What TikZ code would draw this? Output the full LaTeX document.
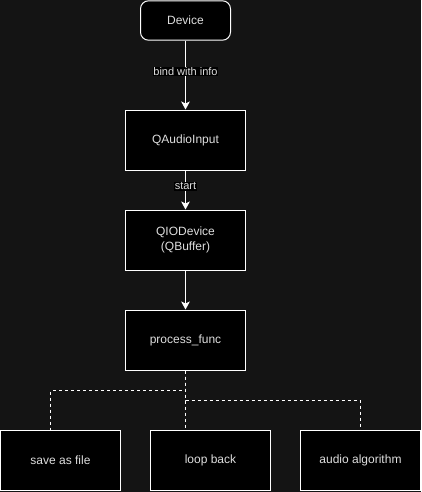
\documentclass[tikz,border=0pt]{standalone}
\usepackage{fontspec}
\setmainfont{Liberation Sans}
\usetikzlibrary{arrows.meta}

\definecolor{bgcol}{RGB}{20,20,20}
\definecolor{txtcol}{RGB}{222,222,222}

\begin{document}
\begin{tikzpicture}[x=0.75pt, y=-0.75pt,
        box/.style={rectangle, draw=white, fill=black, line width=0.75pt, minimum width=90pt, minimum height=45pt, inner sep=0pt, text=txtcol, font=\fontsize{9}{11}\selectfont, align=center},
        flow/.style={draw=white, line width=0.75pt, -{Stealth[length=6pt, width=6.5pt, inset=1.5pt]}},
        link/.style={draw=white, line width=0.75pt, dash pattern=on 2.25pt off 2.25pt},
        tag/.style={fill=black, text=txtcol, font=\fontsize{8.25}{10}\selectfont, inner sep=0.6pt}]

        \fill[bgcol] (0,0) rectangle (421,492);
        \useasboundingbox (0,0) rectangle (421,492);

        % Nodes
        \node[box, rounded corners=6pt, minimum width=67.5pt, minimum height=29.5pt] (dev) at (185.5,20.5) {Device};
        \node[box] (input) at (185.5,140) {QAudioInput};
        \node[box] (buf) at (185.5,240) {QIODevice\\(QBuffer)};
        \node[box] (proc) at (185.5,340) {process\_func};
        \node[box] (save) at (60.5,460) {save as file};
        \node[box] (loop) at (210.5,460) {loop back};
        \node[box] (algo) at (360.5,460) {audio algorithm};

        % Edges
        \draw[flow] (dev) -- node[tag, pos=0.45] {bind with info} (input);
        \draw[flow] (input) -- node[tag, pos=0.4] {start} (buf);
        \draw[flow] (buf) -- (proc);
        \draw[link] (proc.south) -- ++(0,20) -| ([xshift=-7.5pt]save.north);
        \draw[link] (proc.south) -- (proc.south |- loop.north);
        \draw[link] (proc.south) -- ++(0,30) -| (algo.north);
\end{tikzpicture}
\end{document}
